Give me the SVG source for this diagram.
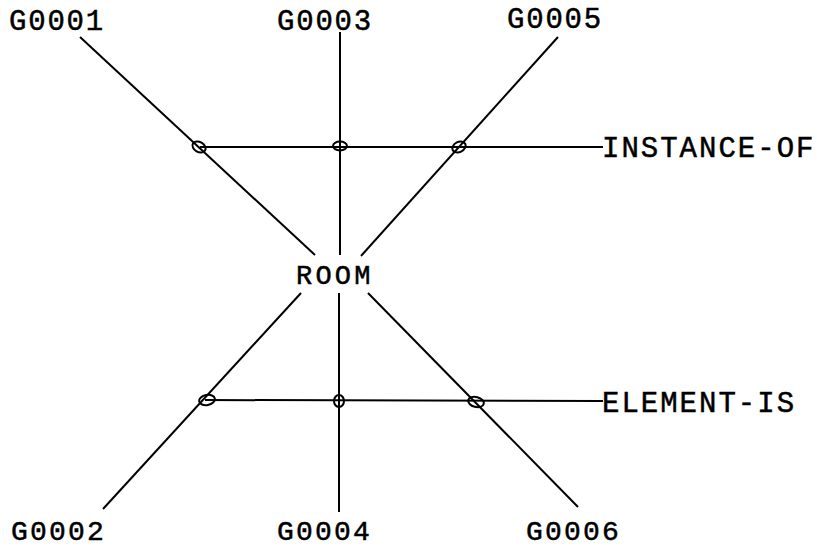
<svg xmlns="http://www.w3.org/2000/svg" width="817" height="548" viewBox="0 0 817 548">
<style>
.ln{stroke:#000;stroke-width:2;fill:none}
.ring{stroke:#000;stroke-width:2;fill:none}
.lbl{font-family:"Liberation Mono","DejaVu Sans Mono",monospace;font-size:29px;fill:#000;stroke:#000;stroke-width:0.5px;letter-spacing:1.8px}
.lblb{font-family:"Liberation Mono","DejaVu Sans Mono",monospace;font-size:28px;fill:#000;stroke:#000;stroke-width:0.5px;letter-spacing:2.2px}
.rel{font-family:"Liberation Mono","Courier New",monospace;font-size:29px;fill:#000;stroke:#000;stroke-width:0.5px;letter-spacing:2px}
.room{font-family:"Liberation Mono","Courier New",monospace;font-size:27px;fill:#000;stroke:#000;stroke-width:0.5px;letter-spacing:3.2px}
</style>
<rect width="817" height="548" fill="#fff"/>
<g id="connectors">
<line class="ln" x1="80" y1="37" x2="315" y2="255"/>
<line class="ln" x1="340" y1="32" x2="340" y2="255"/>
<line class="ln" x1="558" y1="37" x2="361" y2="256"/>
<line class="ln" x1="200" y1="147" x2="603" y2="147"/>
<line class="ln" x1="301" y1="293" x2="103" y2="509"/>
<line class="ln" x1="339" y1="293" x2="339" y2="512"/>
<line class="ln" x1="368" y1="293" x2="578" y2="507"/>
<line class="ln" x1="205" y1="400" x2="603" y2="401"/>
<ellipse class="ring" cx="199" cy="147" rx="7" ry="5" transform="rotate(30 199 147)"/>
<ellipse class="ring" cx="340" cy="146" rx="7" ry="4.5"/>
<ellipse class="ring" cx="459" cy="147" rx="7" ry="5" transform="rotate(-25 459 147)"/>
<ellipse class="ring" cx="207" cy="400" rx="8" ry="5" transform="rotate(-10 207 400)"/>
<ellipse class="ring" cx="339" cy="401" rx="5" ry="6"/>
<ellipse class="ring" cx="476" cy="402" rx="8" ry="5" transform="rotate(15 476 402)"/>
</g>
<g id="G0001"><text class="lbl" x="9" y="30">G0001</text></g>
<g id="G0003"><text class="lbl" x="277" y="30">G0003</text></g>
<g id="G0005"><text class="lbl" x="507" y="28">G0005</text></g>
<g id="ROOM"><text class="room" x="296" y="284">ROOM</text></g>
<g id="INSTANCE-OF"><text class="rel" x="602" y="157">INSTANCE-OF</text></g>
<g id="ELEMENT-IS"><text class="rel" x="602" y="412">ELEMENT-IS</text></g>
<g id="G0002"><text class="lblb" x="11" y="540">G0002</text></g>
<g id="G0004"><text class="lblb" x="277" y="540">G0004</text></g>
<g id="G0006"><text class="lblb" x="526" y="540">G0006</text></g>
</svg>
